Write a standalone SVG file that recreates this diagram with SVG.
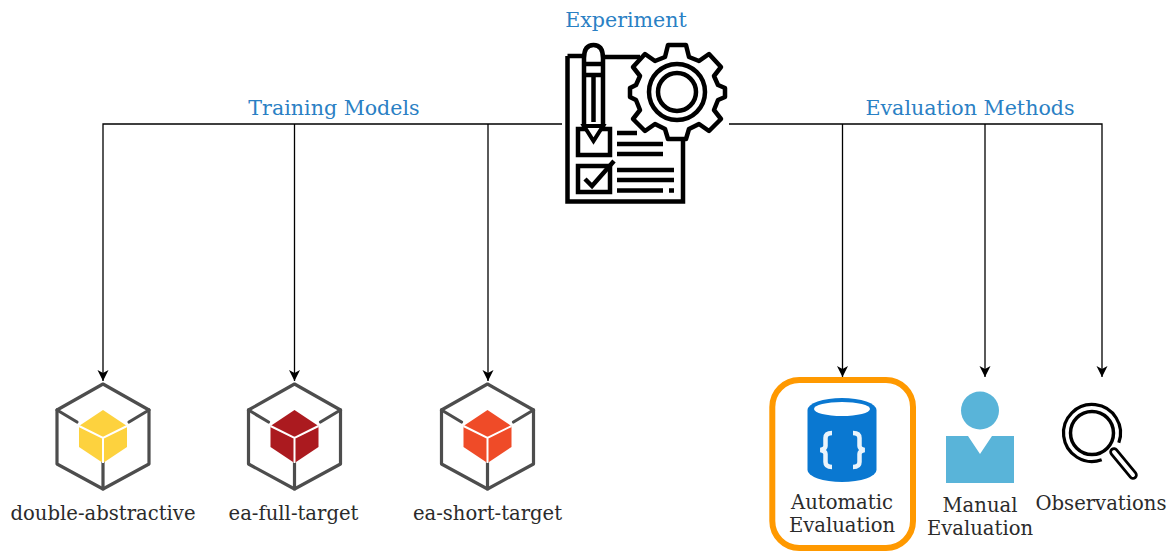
<svg xmlns="http://www.w3.org/2000/svg" xmlns:xlink="http://www.w3.org/1999/xlink" width="1169" height="551" viewBox="0 0 1169 551">
<style>
text{font-family:"DejaVu Serif",serif;text-anchor:middle}
.h{font-size:20.600px;fill:#2a80c4}
.l{font-size:19.600px;fill:#2b2b2b}
.c{fill:none;stroke:#000;stroke-width:1.3}
.k{fill:none;stroke:#000;stroke-width:4.5}
.f{fill:none;stroke:#4d4d4d;stroke-width:3.200;stroke-linejoin:round;stroke-linecap:round}
.s{stroke:#fff;stroke-width:2;fill:none}
</style>
<defs>
<marker id="a" markerUnits="userSpaceOnUse" markerWidth="13" markerHeight="13" refX="11" refY="6" orient="auto"><path d="M0 0.500L11 6L0 11.500L3 6Z" fill="#000"/></marker>
<g id="frame">
<path class="f" d="M0 0L46 26V80L0 105L-46 80V26Z"/>
<path class="f" d="M-46 26L-26 38M46 26L26 38M0 105V78"/>
</g>
<path id="inner" d="M0 26L24 42V63L0 79L-24 63V42Z"/>
<path id="innerl" class="s" d="M-24 42L0 54L24 42M0 54V79"/>
</defs>
<g id="connectors">
<path class="c" d="M562 124H103V381" marker-end="url(#a)"/>
<path class="c" d="M294.500 124V381" marker-end="url(#a)"/>
<path class="c" d="M488 124V381" marker-end="url(#a)"/>
<path class="c" d="M729 124H1102V377" marker-end="url(#a)"/>
<path class="c" d="M842.500 124V377" marker-end="url(#a)"/>
<path class="c" d="M985 124V377" marker-end="url(#a)"/>
</g>
<g id="experiment">
<text class="h" x="626" y="27">Experiment</text>
<path class="k" d="M605 57H640M567.500 56V201.500H683V138M567.500 56H583"/>
<path class="k" d="M584 130V58Q584 45 593.500 45Q603 45 603 58V130" stroke-linejoin="round"/>
<path class="k" d="M584 64H603M584 75H603"/>
<path class="k" stroke-width="3" d="M593.500 75V122"/>
<rect class="k" x="578" y="129" width="32" height="26"/>
<path d="M584 126H603L593.500 141Z" fill="#fff" stroke="#000" stroke-width="4"/>
<rect class="k" x="578" y="166" width="32" height="26"/>
<path class="k" d="M585 179L592 186L614 161"/>
<path class="k" d="M617 133H637M617 144H663M617 154H663M617 170H674M617 180H674M617 190.500H663M669 190.500H674"/>
<path fill="#fff" stroke="#000" stroke-width="4.500" stroke-linejoin="round" d="M668 45H686L689 57L699 61L709 54L721 67L714 76L718 85L725 88V97L718 100L714 110L721 119L709 131L699 124L689 129L686 139H668L665 129L655 124L645 131L633 119L640 110L636 100L630 97V88L636 85L640 76L633 67L645 54L655 61L665 57Z"/>
<circle cx="677" cy="92" r="28" fill="none" stroke="#000" stroke-width="4.500"/>
<circle cx="677" cy="92" r="19" fill="none" stroke="#000" stroke-width="4.500"/>
</g>
<g id="double-abstractive" transform="translate(103 384)">
<use xlink:href="#frame"/><use xlink:href="#inner" fill="#fdd23e"/><use xlink:href="#innerl"/>
<text class="l" x="0" y="136">double-abstractive</text>
</g>
<g id="ea-full-target" transform="translate(294.500 384)">
<use xlink:href="#frame"/><use xlink:href="#inner" fill="#ab1a1f"/><use xlink:href="#innerl"/>
<text class="l" x="-1" y="136">ea-full-target</text>
</g>
<g id="ea-short-target" transform="translate(487.500 384)">
<use xlink:href="#frame"/><use xlink:href="#inner" fill="#ef4b28"/><use xlink:href="#innerl"/>
<text class="l" x="0" y="136">ea-short-target</text>
</g>
<g id="evaluation-methods-label"><text class="h" x="970" y="115">Evaluation Methods</text></g>
<g id="training-models-label"><text class="h" x="334" y="115">Training Models</text></g>
<g id="automatic-evaluation">
<rect x="772.300" y="380" width="140.700" height="168" rx="27" fill="none" stroke="#ff9900" stroke-width="6"/>
<path d="M807.500 410A34.500 12 0 0 1 876.500 410V470A34.500 12 0 0 1 807.500 470Z" fill="#0a78d1"/>
<ellipse cx="842" cy="409" rx="28" ry="7" fill="#fff"/>
<path d="M832 433Q825.500 433 825.500 438V446Q825.500 449 820.500 450Q825.500 451 825.500 454V462Q825.500 467 832 467M853 433Q859.500 433 859.500 438V446Q859.500 449 864.500 450Q859.500 451 859.500 454V462Q859.500 467 853 467" fill="none" stroke="#eaf4fb" stroke-width="4.500"/>
<text class="l" x="842" y="509">Automatic</text>
<text class="l" x="842" y="532">Evaluation</text>
</g>
<g id="manual-evaluation">
<circle cx="980" cy="410.500" r="19" fill="#59b4d9"/>
<path d="M946 436H968L980 454L992 436H1014V483H946Z" fill="#59b4d9"/>
<text class="l" x="980" y="512">Manual</text>
<text class="l" x="980" y="535">Evaluation</text>
</g>
<g id="observations">
<path d="M1118.800 442.700A28.500 28.500 0 1 0 1101.700 459.800" fill="none" stroke="#000" stroke-width="3.200"/>
<circle cx="1092" cy="433" r="21.500" fill="none" stroke="#000" stroke-width="3.500"/>
<path d="M1114 452L1133 475" stroke="#000" stroke-width="9.500" stroke-linecap="round"/>
<path d="M1114 452L1133 475" stroke="#fff" stroke-width="4" stroke-linecap="round"/>
<text class="l" x="1101" y="510">Observations</text>
</g>
</svg>
